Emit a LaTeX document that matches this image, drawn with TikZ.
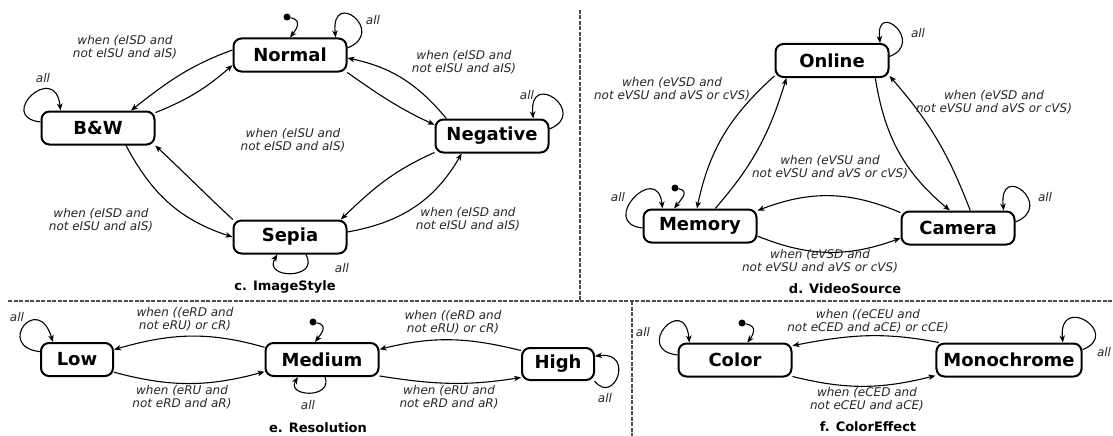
\documentclass[tikz,border=0pt]{standalone}
\usepackage{fontspec}
\setmainfont{DejaVu Sans}
\usetikzlibrary{arrows.meta,calc}
\begin{document}
\begin{tikzpicture}[x=1pt,y=-1pt,
  st/.style={draw, line width=2pt, rounded corners=8pt, minimum width=113pt, minimum height=33pt, inner xsep=7pt, font=\fontsize{18}{20}\selectfont\bfseries},
  tr/.style={line width=1.1pt, -{Stealth[length=7pt,width=5.5pt,inset=2pt]}},
  lbl/.style={font=\fontsize{12}{12.5}\selectfont\itshape, align=center, inner sep=0pt, text=black!85},
  alll/.style={font=\fontsize{12}{12}\selectfont\itshape, inner sep=0pt, text=black!85},
  captxt/.style={font=\fontsize{13}{14}\selectfont\bfseries, inner sep=0pt},
  initd/.style={circle, fill=black, inner sep=0pt, minimum size=7pt},
  divl/.style={line width=1.2pt, black!70, dash pattern=on 4pt off 1.5pt}
]
\useasboundingbox (0,0) rectangle (1113,436);

% dividers
\draw[divl] (8,301) -- (1113,301);
\draw[divl] (580,10) -- (580,301);
\draw[divl] (632,301) -- (632,436);

% states
\node[st] (normal) at (290,55) {Normal};
\node[st] (bw) at (98,128) {B\&W};
\node[st] (neg) at (492,136) {Negative};
\node[st] (sepia) at (290,237) {Sepia};
\node[st] (online) at (832,60.5) {Online};
\node[st] (memory) at (700,226) {Memory};
\node[st] (camera) at (958,228) {Camera};
\node[st, minimum width=72pt] (low) at (77,359.5) {Low};
\node[st] (medium) at (322,359.5) {Medium};
\node[st, minimum width=72pt, minimum height=32pt] (high) at (558,364) {High};
\node[st] (color) at (735,360) {Color};
\node[st] (mono) at (1009,360) {Monochrome};

% initial dots
\node[initd] (ni) at (287,17) {};
\node[initd] (mi) at (675,188) {};
\node[initd] (di) at (313,322) {};
\node[initd] (ci) at (742,323) {};

% panel c transitions
\draw[tr] (normal.175) to[out=200,in=38] (bw.28);
\draw[tr] (bw.15) to[out=22,in=221] (normal.190);
\draw[tr] (normal.343) to[out=-35,in=155] (neg.169);
\draw[tr] (neg.159) to[out=130,in=-12] (normal.357);
\draw[tr] (bw.328) to[out=-62,in=162] (sepia.180);
\draw[tr] (sepia.163) to[out=137,in=-43] (bw.343);
\draw[tr] (neg.196) to[out=204,in=44] (sepia.19);
\draw[tr] (sepia.5) to[out=10,in=240] (neg.210);

% panel d transitions
\draw[tr] (online.195) to[out=222,in=78] (memory.100);
\draw[tr] (memory.49) to[out=49,in=253] (online.201);
\draw[tr] (online.338) to[out=-81,in=140] (camera.115);
\draw[tr] (camera.55) to[out=111,in=-49] (online.345);
\draw[tr] (camera.165) to[out=157,in=21] (memory.15);
\draw[tr] (memory.350) to[out=-22,in=200] (camera.190);

% panel e transitions
\draw[tr] (medium.168) to[out=164,in=16] (low.15);
\draw[tr] (low.341) to[out=-15,in=195] (medium.192);
\draw[tr] (high.160) to[out=166,in=14] (medium.10);
\draw[tr] (medium.344) to[out=-9,in=189] (high.200);

% panel f transitions
\draw[tr] (mono.166) to[out=169,in=11] (color.14);
\draw[tr] (color.344) to[out=-14,in=194] (mono.192);

% self loops
\draw[tr] (normal.7) .. controls ($(normal.7)+(40,-16)$) and ($(normal.21)+(-5,-50)$) .. (normal.21);
\draw[tr] (neg.7) .. controls ($(neg.7)+(40,-16)$) and ($(neg.23)+(-5,-50)$) .. (neg.23);
\draw[tr] (online.4) .. controls ($(online.4)+(36,-14)$) and ($(online.20)+(-5,-44)$) .. (online.20);
\draw[tr] (camera.6) .. controls ($(camera.6)+(40,-16)$) and ($(camera.21)+(-5,-50)$) .. (camera.21);
\draw[tr] (mono.8) .. controls ($(mono.8)+(40,-16)$) and ($(mono.18)+(-5,-50)$) .. (mono.18);
\draw[tr] (bw.174) .. controls ($(bw.174)+(-45,-5)$) and ($(bw.155)+(-5,-50)$) .. (bw.155);
\draw[tr] (memory.182) .. controls ($(memory.182)+(-45,-5)$) and ($(memory.155)+(-5,-48)$) .. (memory.155);
\draw[tr] (color.175) .. controls ($(color.175)+(-45,-5)$) and ($(color.159)+(-5,-50)$) .. (color.159);
\draw[tr] (low.168) .. controls ($(low.168)+(-45,-5)$) and ($(low.144)+(-15,-50)$) .. (low.144);
\draw[tr] (sepia.312) .. controls ($(sepia.312)+(15,25)$) and ($(sepia.234)+(-15,25)$) .. (sepia.234);
\draw[tr] (medium.280) .. controls ($(medium.280)+(8,22)$) and ($(medium.216)+(-12,20)$) .. (medium.216);
\draw[tr] (high.335) .. controls ($(high.335)+(20,25)$) and ($(high.12)+(40,-5)$) .. (high.12);

% initial arrows
\draw[tr] (ni) .. controls ($(ni)+(15,3)$) and ($(normal.north)+(7,-9)$) .. (normal.north);
\draw[tr] (mi) .. controls ($(mi)+(15,3)$) and ($(memory.146)+(7,-9)$) .. (memory.146);
\draw[tr] (di) .. controls ($(di)+(15,3)$) and ($(medium.112)+(7,-9)$) .. (medium.112);
\draw[tr] (ci) .. controls ($(ci)+(15,3)$) and ($(color.55)+(7,-9)$) .. (color.55);

% labels panel c
\node[lbl] (lc1) at (125,47) {when (eISD and\\not eISU and aIS)};
\node[lbl] (lc2) at (464,62) {when (eISD and\\not eISU and aIS)};
\node[lbl] (lc3) at (101,220) {when (eISD and\\not eISU and aIS)};
\node[lbl] (lc4) at (468,219) {when (eISD and\\not eISU and aIS)};
\node[lbl] (lc5) at (293,140) {when (eISU and\\not eISD and aIS)};

% labels panel d
\node[lbl] (ld1) at (672,89) {when (eVSD and\\not eVSU and aVS or cVS)};
\node[lbl] (ld2) at (994,102) {when (eVSD and\\not eVSU and aVS or cVS)};
\node[lbl] (ld3) at (830,167) {when (eVSU and\\not eVSU and aVS or cVS)};
\node[lbl] (ld4) at (820,261) {when (eVSD and\\not eVSU and aVS or cVS)};

% labels panel e
\node[lbl] (le1) at (185,319) {when ((eRD and\\not eRU) or cR)};
\node[lbl] (le2) at (453,322) {when ((eRD and\\not eRU) or cR)};
\node[lbl] (le3) at (182,397) {when (eRU and\\not eRD and aR)};
\node[lbl] (le4) at (449,397) {when (eRU and\\not eRD and aR)};

% labels panel f
\node[lbl] (lf1) at (868,321) {when ((eCEU and\\not eCED and aCE) or cCE)};
\node[lbl] (lf2) at (867,399) {when (eCED and\\not eCEU and aCE)};

% all labels
\node[alll] (a1) at (373,20) {all};
\node[alll] (a2) at (43,78) {all};
\node[alll] (a3) at (527,95) {all};
\node[alll] (a4) at (342,268) {all};
\node[alll] (a5) at (618,197) {all};
\node[alll] (a6) at (1045,197) {all};
\node[alll] (a7) at (918,33) {all};
\node[alll] (a8) at (17,317) {all};
\node[alll] (a9) at (308,405) {all};
\node[alll] (a10) at (605,398) {all};
\node[alll] (a11) at (643,332) {all};
\node[alll] (a12) at (1104,352) {all};

% captions
\node[captxt] (capc) at (285,287) {c. ImageStyle};
\node[captxt] (capd) at (845,289) {d. VideoSource};
\node[captxt] (cape) at (318,428) {e. Resolution};
\node[captxt] (capf) at (868,427) {f. ColorEffect};
\end{tikzpicture}
\end{document}
